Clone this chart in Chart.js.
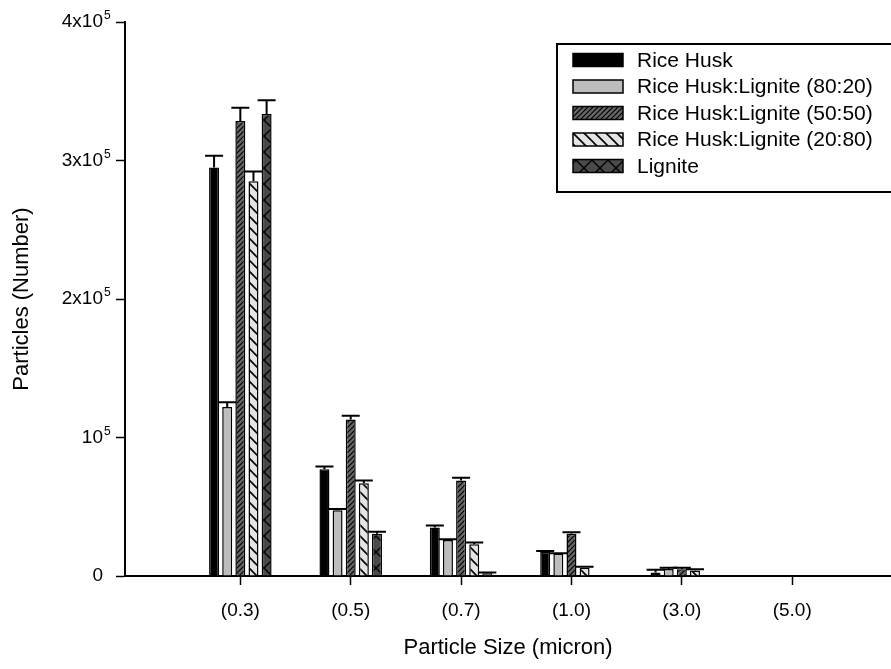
<!DOCTYPE html>
<html>
<head>
<meta charset="utf-8">
<script src="https://cdn.jsdelivr.net/npm/chart.js@4/dist/chart.umd.min.js"></script>
<style>
    body { margin: 0; background: #fff; }
    #wrap { width: 891px; height: 669px; }
</style>
</head>
<body>
<div id="wrap"><canvas id="myChart" width="891" height="669"></canvas></div>
<script>
const sizes = ['(0.3)', '(0.5)', '(0.7)', '(1.0)', '(3.0)', '(5.0)']
const y_ticks = [0, 100000, 200000, 300000, 400000]
// base text and exponent for each y label
const y_tick_base = ['0', '10', '2x10', '3x10', '4x10']
const y_tick_exp = ['', '5', '5', '5', '5']

const series_names = ['Rice Husk', 'Rice Husk:Lignite (80:20)', 'Rice Husk:Lignite (50:50)', 'Rice Husk:Lignite (20:80)', 'Lignite']

const rice_husk = [295000, 77000, 35000, 17500, 2500, 0]
const rice_husk_err = [8500, 2000, 1400, 600, 2000, 0]
const rh_80_20 = [122000, 47500, 26000, 16000, 5000, 0]
const rh_80_20_err = [3500, 800, 600, 500, 1000, 0]
const rh_50_50 = [328500, 113000, 69000, 30500, 4800, 0]
const rh_50_50_err = [9500, 2700, 2000, 1000, 1200, 0]
const rh_20_80 = [285000, 67000, 23000, 6000, 4000, 0]
const rh_20_80_err = [7000, 2000, 1200, 700, 800, 0]
const lignite = [333500, 30500, 2000, 0, 0, 0]
const lignite_err = [10000, 1500, 500, 0, 0, 0]

const FONT = "'Liberation Sans', Arial, sans-serif"

// small tiles for the hatched fills
function make_pattern(bg, size, draw) {
    let c = document.createElement('canvas')
    c.width = size
    c.height = size
    let ctx = c.getContext('2d')
    ctx.fillStyle = bg
    ctx.fillRect(0, 0, size, size)
    ctx.strokeStyle = '#000'
    draw(ctx, size)
    return ctx.createPattern(c, 'repeat')
}

function forward_lines(ctx, s) {
    ctx.lineWidth = 1.2
    ctx.beginPath()
    ctx.moveTo(0, s); ctx.lineTo(s, 0)
    ctx.moveTo(-1, 1); ctx.lineTo(1, -1)
    ctx.moveTo(s - 1, s + 1); ctx.lineTo(s + 1, s - 1)
    ctx.stroke()
}

function back_lines(ctx, s) {
    ctx.lineWidth = 1.6
    ctx.beginPath()
    ctx.moveTo(0, 0); ctx.lineTo(s, s)
    ctx.moveTo(-1, s - 1); ctx.lineTo(1, s + 1)
    ctx.moveTo(s - 1, -1); ctx.lineTo(s + 1, 1)
    ctx.stroke()
}

function cross_lines(ctx, s) {
    ctx.lineWidth = 1.4
    ctx.beginPath()
    ctx.moveTo(0, 0); ctx.lineTo(s, s)
    ctx.moveTo(0, s); ctx.lineTo(s, 0)
    ctx.stroke()
}

const fills = [
    '#000000',
    '#bdbdbd',
    make_pattern('#666666', 5, forward_lines),
    make_pattern('#e4e4e4', 11, back_lines),
    make_pattern('#4a4a4a', 16, cross_lines)
]

const values = [rice_husk, rh_80_20, rh_50_50, rh_20_80, lignite]
const errors = [rice_husk_err, rh_80_20_err, rh_50_50_err, rh_20_80_err, lignite_err]

let datasets = values.map((vals, i) => ({
    label: series_names[i],
    data: vals.map((v, j) => ({ x: j, y: v })),
    backgroundColor: fills[i],
    borderColor: '#000',
    borderWidth: 1.5,
    categoryPercentage: 0.595,
    barPercentage: 0.76
}))

// upward error bars with caps
const error_bars = {
    id: 'error_bars',
    afterDatasetsDraw(chart) {
        let ctx = chart.ctx
        let y = chart.scales.y
        ctx.save()
        ctx.strokeStyle = '#000'
        ctx.lineWidth = 2
        values.forEach((vals, i) => {
            let meta = chart.getDatasetMeta(i)
            meta.data.forEach((bar, j) => {
                let err = errors[i][j]
                if (!err) return
                let top = y.getPixelForValue(vals[j])
                let upper = y.getPixelForValue(vals[j] + err)
                ctx.beginPath()
                ctx.moveTo(bar.x, top)
                ctx.lineTo(bar.x, upper)
                ctx.moveTo(bar.x - 9, upper)
                ctx.lineTo(bar.x + 9, upper)
                ctx.stroke()
            })
        })
        ctx.restore()
    }
}

// y labels with a raised exponent
const y_labels = {
    id: 'y_labels',
    afterDraw(chart) {
        let ctx = chart.ctx
        let scale = chart.scales.y
        let right = scale.right - 22
        ctx.save()
        ctx.fillStyle = '#000'
        ctx.textBaseline = 'middle'
        y_ticks.forEach((v, i) => {
            let py = scale.getPixelForValue(v)
            ctx.font = `19px ${FONT}`
            ctx.textAlign = 'right'
            ctx.fillText(y_tick_base[i], right, py)
            if (y_tick_exp[i]) {
                ctx.font = `12px ${FONT}`
                ctx.textAlign = 'left'
                ctx.fillText(y_tick_exp[i], right + 1, py - 6)
            }
        })
        ctx.restore()
    }
}

// boxed legend in the upper right corner
const box_legend = {
    id: 'box_legend',
    afterDraw(chart) {
        let ctx = chart.ctx
        ctx.save()
        ctx.strokeStyle = '#000'
        ctx.lineWidth = 2
        ctx.strokeRect(557, 44, 345, 148)
        ctx.font = `21px ${FONT}`
        ctx.textBaseline = 'middle'
        ctx.fillStyle = '#000'
        chart.data.datasets.forEach((ds, i) => {
            let cy = 60 + i * 26.5
            ctx.fillStyle = ds.backgroundColor
            ctx.fillRect(573, cy - 6.5, 50, 13)
            ctx.lineWidth = 1.5
            ctx.strokeRect(573, cy - 6.5, 50, 13)
            ctx.fillStyle = '#000'
            ctx.fillText(ds.label, 637, cy + 1)
        })
        ctx.restore()
    }
}

let config = {
    type: 'bar',
    data: { datasets: datasets },
    options: {
        responsive: false,
        animation: false,
        layout: { padding: { top: 22, right: 0, left: 0, bottom: 0 } },
        plugins: {
            legend: { display: false },
            tooltip: { enabled: false }
        },
        scales: {
            x: {
                type: 'linear',
                min: -1.045,
                max: 5.895,
                offset: false,
                afterBuildTicks: scale => { scale.ticks = sizes.map((s, i) => ({ value: i })) },
                afterFit: scale => { scale.height = 93 },
                ticks: {
                    callback: v => sizes[v],
                    color: '#000',
                    font: { family: FONT, size: 19 },
                    padding: 14,
                    maxRotation: 0,
                    autoSkip: false
                },
                grid: { offset: false, drawOnChartArea: false, drawTicks: true, tickLength: 9, tickColor: '#000', tickWidth: 1.5 },
                border: { display: true, color: '#000', width: 2 },
                title: {
                    display: true,
                    text: 'Particle Size (micron)',
                    color: '#000',
                    font: { family: FONT, size: 22 },
                    padding: { top: 0, bottom: 8 }
                }
            },
            y: {
                min: 0,
                max: 400000,
                afterBuildTicks: scale => { scale.ticks = y_ticks.map(v => ({ value: v })) },
                afterFit: scale => { scale.width = 125 },
                ticks: { display: false },
                grid: { drawOnChartArea: false, drawTicks: true, tickLength: 9, tickColor: '#000', tickWidth: 1.5 },
                border: { display: true, color: '#000', width: 2 },
                title: {
                    display: true,
                    text: 'Particles (Number)',
                    color: '#000',
                    font: { family: FONT, size: 22 },
                    padding: { top: 9, bottom: 0 }
                }
            }
        }
    },
    plugins: [error_bars, y_labels, box_legend]
}

let myChart = new Chart(document.getElementById('myChart'), config)
</script>
</body>
</html>
